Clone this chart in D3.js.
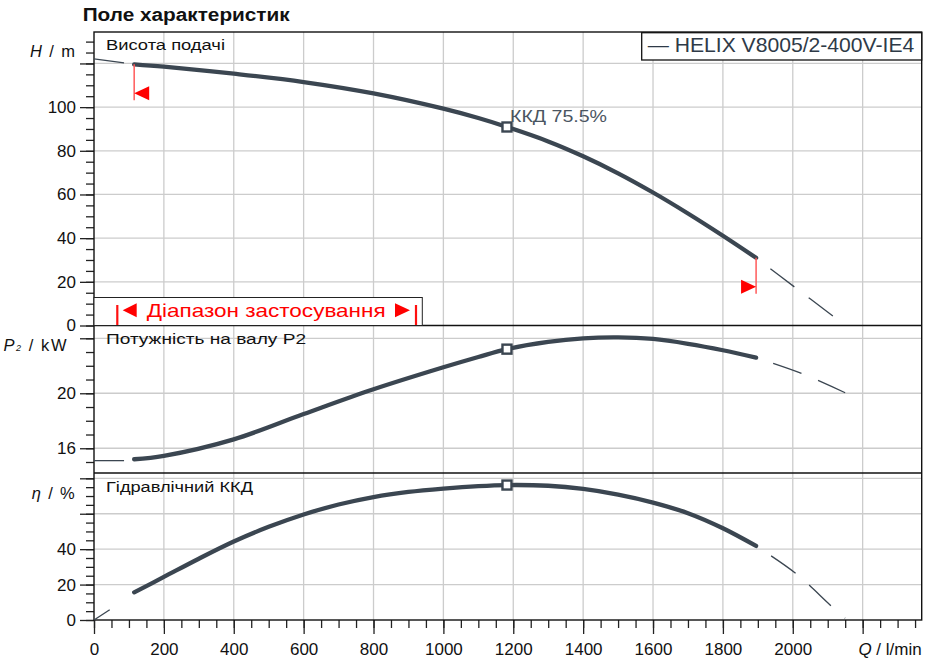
<!DOCTYPE html>
<html>
<head>
<meta charset="utf-8">
<script src="https://cdn.jsdelivr.net/npm/d3@7"></script>
<style>
  body { margin: 0; background: #fff; }
  svg { display: block; font-family: "Liberation Sans", Arial, sans-serif; }
</style>
</head>
<body>
<svg id="chart"></svg>
<script>
// Values (Q in l/min)
const flow = [115, 200, 400, 600, 800, 1000, 1100, 1182, 1300, 1400, 1500, 1600, 1700, 1800, 1895];
const head = [119.6, 118.5, 115.3, 111.5, 106.3, 99.3, 95.0, 90.9, 84.3, 77.5, 69.7, 60.9, 51.3, 41.1, 31.0];
const power = [15.2, 15.45, 16.65, 18.49, 20.29, 21.89, 22.64, 23.21, 23.74, 24.0, 24.07, 23.95, 23.6, 23.13, 22.59];
const effFlow = [115, 200, 300, 400, 500, 600, 700, 800, 900, 1000, 1100, 1182, 1300, 1400, 1500, 1600, 1700, 1800, 1895];
const efficiency = [15.6, 24.3, 34.6, 44.3, 52.6, 59.6, 65.2, 69.4, 72.3, 74.2, 75.6, 76.2, 75.8, 74.0, 70.8, 66.3, 60.3, 51.8, 41.8];

// extrapolated parts outside the operating range
const headStartQ = [0, 86], headStart = [122.1, 120.3];
const headEndQ = [1895, 2006, 2116], headEnd = [31.0, 17.5, 4.2];
const powerStartQ = [0, 86], powerStart = [15.1, 15.1];
const powerEndQ = [1895, 2025, 2150], powerEnd = [22.59, 21.45, 20.04];
const effStartQ = [0, 45], effStart = [0, 5.8];
const effEndQ = [1895, 2008, 2109, 2150], effEnd = [41.8, 26.4, 8.1, 1.0];

const bepQ = 1182;
const bepLabel = "ККД  75.5%";
const rangeLimits = [115, 1895];

const qTicks = [0, 200, 400, 600, 800, 1000, 1200, 1400, 1600, 1800, 2000, 2200];
const qTickLabels = ["0", "200", "400", "600", "800", "1000", "1200", "1400", "1600", "1800", "2000", ""];
const headTicks = [0, 20, 40, 60, 80, 100, 120];
const headTickLabels = ["0", "20", "40", "60", "80", "100", ""];
const powerTicks = [16, 20, 24];
const powerTickLabels = ["16", "20", ""];
const effTicks = [0, 20, 40, 60, 80];
const effTickLabels = ["0", "20", "40", "", ""];

const seriesName = "— HELIX V8005/2-400V-IE4";

const width = 928, height = 667;
const plotLeft = 94, plotRight = 921.7, plotTop = 32, plotBottom = 620;
const curveColor = "#3b4651";
const gridColor = "#cccccc";

const svg = d3.select("#chart").attr("width", width).attr("height", height);
svg.append("rect").attr("width", width).attr("height", height).attr("fill", "#fff");

const x = d3.scaleLinear().domain([0, 2369]).range([plotLeft, plotRight]);

const yHead = d3.scaleLinear().domain([0, 134.4]).range([325.5, plotTop]);
const yPower = d3.scaleLinear().domain([14.2, 24.93]).range([473, 325.5]);
const yEff = d3.scaleLinear().domain([0, 83]).range([plotBottom, 473]);

const panels = [
  { y: yHead, minor: d3.range(0, 131, 5), major: headTicks, labels: headTickLabels,
    title: "Висота подачі", titleY: 50, titleLen: 119 },
  { y: yPower, minor: d3.range(15, 25, 1), major: powerTicks, labels: powerTickLabels,
    title: "Потужність на валу  P2", titleY: 344, titleLen: 200 },
  { y: yEff, minor: d3.range(0, 81, 5), major: effTicks, labels: effTickLabels,
    title: "Гідравлічний ККД", titleY: 491.7, titleLen: 147 }
];

// grid
const grid = svg.append("g").attr("stroke", gridColor).attr("stroke-width", 1.3);
grid.selectAll(".vgrid")
  .data(qTicks.filter(d => d > 0))
  .enter().append("line")
  .attr("x1", d => x(d)).attr("x2", d => x(d))
  .attr("y1", plotTop).attr("y2", plotBottom);
panels.forEach(p => {
  grid.selectAll(null)
    .data(p.major.filter(d => d > p.y.domain()[0]))
    .enter().append("line")
    .attr("x1", plotLeft).attr("x2", plotRight)
    .attr("y1", d => p.y(d)).attr("y2", d => p.y(d));
});

function styleAxis(g) {
  g.selectAll(".domain").remove();
  g.attr("font-family", null).attr("font-size", 17);
  g.selectAll("line").attr("stroke", "#222").attr("stroke-width", 1.3);
  g.selectAll("text").attr("fill", "#111");
}

// y axes: minor and major ticks in separate groups
panels.forEach(p => {
  const gMinor = svg.append("g").attr("transform", `translate(${plotLeft},0)`);
  gMinor.call(d3.axisLeft(p.y).tickValues(p.minor).tickSize(8).tickFormat(""));
  styleAxis(gMinor);
  const gMajor = svg.append("g").attr("transform", `translate(${plotLeft},0)`);
  gMajor.call(d3.axisLeft(p.y).tickValues(p.major).tickSize(14).tickPadding(4)
    .tickFormat((d, i) => p.labels[i]));
  styleAxis(gMajor);
});

// x axis
const gxMinor = svg.append("g").attr("transform", `translate(0,${plotBottom})`);
gxMinor.call(d3.axisBottom(x).tickValues(d3.range(0, 2351, 50)).tickSize(8).tickFormat(""));
styleAxis(gxMinor);
const gx = svg.append("g").attr("transform", `translate(0,${plotBottom})`);
gx.call(d3.axisBottom(x).tickValues(qTicks).tickSize(14).tickPadding(9)
  .tickFormat((d, i) => qTickLabels[i]));
styleAxis(gx);

// frame and panel dividers
svg.append("rect")
  .attr("x", plotLeft).attr("y", plotTop)
  .attr("width", plotRight - plotLeft).attr("height", plotBottom - plotTop)
  .attr("fill", "none").attr("stroke", "#111").attr("stroke-width", 1.4);
[yHead(0), yEff.range()[1]].forEach(yy => {
  svg.append("line").attr("x1", plotLeft).attr("x2", plotRight)
    .attr("y1", yy).attr("y2", yy)
    .attr("stroke", "#111").attr("stroke-width", 1.4);
});

// operating range box
const rangeBox = svg.append("g");
rangeBox.append("rect")
  .attr("x", plotLeft).attr("y", 297.5).attr("width", 328.3).attr("height", yHead(0) - 297.5)
  .attr("fill", "#fff").attr("stroke", "#222").attr("stroke-width", 1);
[117.3, 416].forEach(bx => {
  rangeBox.append("line").attr("x1", bx).attr("x2", bx).attr("y1", 305).attr("y2", 325)
    .attr("stroke", "#ff1010").attr("stroke-width", 2.2);
});
rangeBox.append("path").attr("d", "M122.7,310.3 L136.7,303.3 L136.7,317.3 Z").attr("fill", "#ff0000");
rangeBox.append("path").attr("d", "M410,310.3 L395,303.3 L395,317.3 Z").attr("fill", "#ff0000");
rangeBox.append("text").attr("x", 146.7).attr("y", 316.7)
  .attr("font-size", 19).attr("fill", "#ff0000")
  .attr("textLength", 239).attr("lengthAdjust", "spacingAndGlyphs")
  .text("Діапазон застосування");

// curves
function drawCurve(qs, vals, yScale, style) {
  const pts = qs.map((q, i) => [q, vals[i]]);
  const line = d3.line()
    .x(d => x(d[0])).y(d => yScale(d[1]))
    .curve(d3.curveCatmullRom.alpha(0.5));
  const path = svg.append("path").datum(pts)
    .attr("d", line).attr("fill", "none").attr("stroke", curveColor);
  if (style === "main") {
    path.attr("stroke-width", 4.3).attr("stroke-linecap", "round");
  } else if (style === "tail") {
    path.attr("stroke-width", 1.3).attr("stroke-dasharray", "30 18").attr("stroke-dashoffset", 30);
  } else {
    path.attr("stroke-width", 1.3);
  }
}

drawCurve(headStartQ, headStart, yHead, "head");
drawCurve(headEndQ, headEnd, yHead, "tail");
drawCurve(flow, head, yHead, "main");
drawCurve(powerStartQ, powerStart, yPower, "head");
drawCurve(powerEndQ, powerEnd, yPower, "tail");
drawCurve(flow, power, yPower, "main");
drawCurve(effStartQ, effStart, yEff, "head");
drawCurve(effEndQ, effEnd, yEff, "tail");
drawCurve(effFlow, efficiency, yEff, "main");

// range limit markers on the head curve
rangeLimits.forEach((q, i) => {
  const hx = x(q);
  const hy = yHead(head[i === 0 ? 0 : head.length - 1]);
  svg.append("line").attr("x1", hx).attr("x2", hx).attr("y1", hy).attr("y2", hy + 36)
    .attr("stroke", "#ff5a5a").attr("stroke-width", 1.5);
  const dir = i === 0 ? 1 : -1;
  const yb = hy + 36;
  svg.append("path")
    .attr("d", `M${hx},${yb - 7} L${hx + dir * 15},${yb - 14} L${hx + dir * 15},${yb} Z`)
    .attr("fill", "#ff0000");
});

// best efficiency point markers
[[yHead, head[flow.indexOf(bepQ)]],
 [yPower, power[flow.indexOf(bepQ)]],
 [yEff, efficiency[effFlow.indexOf(bepQ)]]].forEach(([ys, v]) => {
  svg.append("rect")
    .attr("x", x(bepQ) - 4.5).attr("y", ys(v) - 4.5)
    .attr("width", 9).attr("height", 9)
    .attr("fill", "#fff").attr("stroke", curveColor).attr("stroke-width", 2.4);
});
svg.append("text").attr("x", 510).attr("y", 121.5)
  .attr("font-size", 16).attr("fill", "#4a5561")
  .attr("textLength", 97).attr("lengthAdjust", "spacingAndGlyphs")
  .text(bepLabel);

// panel titles
panels.forEach(p => {
  svg.append("text").attr("x", 106).attr("y", p.titleY)
    .attr("font-size", 15.5).attr("fill", "#111")
    .attr("textLength", p.titleLen).attr("lengthAdjust", "spacingAndGlyphs")
    .text(p.title);
});

// axis titles
const hLabel = svg.append("text").attr("x", 30).attr("y", 57.3)
  .attr("font-size", 16.5).attr("fill", "#111")
  .attr("textLength", 45).attr("lengthAdjust", "spacing");
hLabel.append("tspan").attr("font-style", "italic").text("H");
hLabel.append("tspan").text(" / m");

const pLabel = svg.append("text").attr("x", 3.5).attr("y", 350.7)
  .attr("font-size", 16.5).attr("fill", "#111")
  .attr("textLength", 63).attr("lengthAdjust", "spacing");
pLabel.append("tspan").attr("font-style", "italic").text("P");
pLabel.append("tspan").attr("font-size", 9).attr("font-style", "italic").text("2");
pLabel.append("tspan").text(" / kW");

const eLabel = svg.append("text").attr("x", 31.7).attr("y", 499.3)
  .attr("font-size", 16.5).attr("fill", "#111")
  .attr("textLength", 43).attr("lengthAdjust", "spacing");
eLabel.append("tspan").attr("font-style", "italic").text("η");
eLabel.append("tspan").text(" / %");

svg.append("text").attr("x", plotRight).attr("y", 655)
  .attr("text-anchor", "end").attr("font-size", 17).attr("fill", "#111")
  .call(t => {
    t.append("tspan").attr("font-style", "italic").text("Q");
    t.append("tspan").text(" / l/min");
  });

// chart title
svg.append("text").attr("x", 82.7).attr("y", 21)
  .attr("font-size", 18).attr("font-weight", "bold").attr("fill", "#111")
  .attr("textLength", 207).attr("lengthAdjust", "spacingAndGlyphs")
  .text("Поле характеристик");

// legend
svg.append("rect").attr("x", 641.7).attr("y", 32.7).attr("width", 280).attr("height", 27.3)
  .attr("fill", "#fff").attr("stroke", "#111").attr("stroke-width", 1.3);
svg.append("text").attr("x", 647.7).attr("y", 51.7)
  .attr("font-size", 21).attr("fill", "#2e3a47")
  .attr("textLength", 266.6).attr("lengthAdjust", "spacingAndGlyphs")
  .text(seriesName);
</script>
</body>
</html>
